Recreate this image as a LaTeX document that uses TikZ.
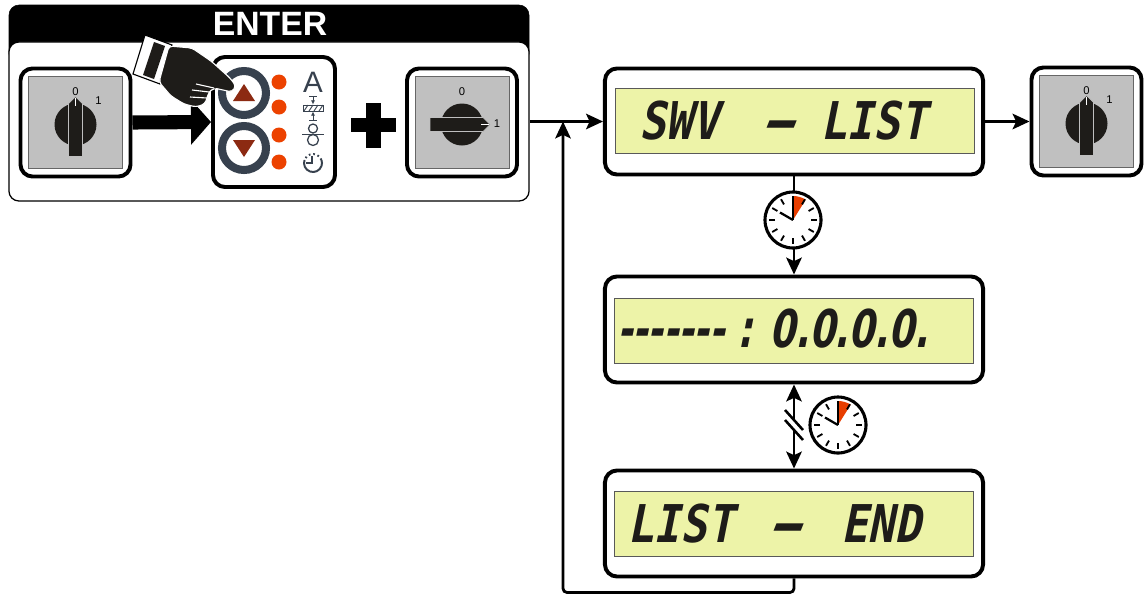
\documentclass[tikz,border=0pt]{standalone}
\usepackage{fontspec}
\setmainfont{Liberation Sans}
\newfontfamily\lcdfont{DejaVu Sans Mono Bold}[FakeSlant=0.2,FakeStretch=0.85]
\newfontfamily\lcdnum{DejaVu Sans Bold}[FakeSlant=0.2,FakeStretch=0.71]
\usetikzlibrary{arrows.meta}

\definecolor{lcdyellow}{RGB}{237,243,168}
\definecolor{swgray}{RGB}{192,192,192}
\definecolor{slate}{RGB}{55,65,78}
\definecolor{dotred}{RGB}{236,66,0}
\definecolor{keyred}{RGB}{140,42,18}
\definecolor{knobblack}{RGB}{30,28,25}
\definecolor{clockred}{RGB}{232,62,0}

% main switch: name, x, y, knob angle, place of the "1"
\newcommand{\mainswitch}[5]{%
  \node[swframe] (#1) at (#2,#3) {};
  \begin{scope}[shift={(#2,#3)}]
    \filldraw[fill=swgray, draw=black!60, line width=0.5pt] (-47,-46) rectangle (47,46);
    \node[swlabel] at (0,-31) {0};
    \node[swlabel] at #5 {1};
    \begin{scope}[shift={(0,2)}, rotate=#4]
      \fill[knobblack] (0,0) circle (21);
      \filldraw[fill=knobblack, draw=black!25, line width=0.5pt] (-7,32) -- (-7,-21) -- (0,-28) -- (7,-21) -- (7,32) -- cycle;
      \draw[white, line width=0.6pt] (0,-27) -- (0,-19);
    \end{scope}
  \end{scope}}

% stop watch with the red time slice
\newcommand{\waitclock}[3]{%
  \node[clock] (#1) at (#2,#3) {};
  \begin{scope}[shift={(#2,#3)}, y=0.025cm]
    \fill[clockred] (0,0) -- (90:24) arc[start angle=90, end angle=58, radius=24] -- cycle;
    \foreach \a in {0,30,...,330}
      \draw[line width=1.3pt] (\a:18) -- (\a:24);
    \draw[line width=1.6pt] (0,0) -- (90:23);
    \draw[line width=1.6pt] (0,0) -- (150:15);
  \end{scope}}

\begin{document}
\begin{tikzpicture}[x=0.025cm, y=-0.025cm,
    >={Stealth[length=12pt,width=11pt,inset=2.5pt]},
    link/.style={line width=2pt, ->},
    swframe/.style={draw, line width=2.8pt, rounded corners=0.3cm, fill=white,
      minimum width=2.75cm, minimum height=2.7cm, inner sep=0pt},
    swlabel/.style={font=\fontsize{8}{8}\selectfont, inner sep=0pt},
    lcdframe/.style={draw, line width=2.8pt, rounded corners=0.3cm, fill=white,
      minimum width=9.45cm, minimum height=2.65cm, inner sep=0pt},
    lcdglass/.style={draw=black!65, line width=0.6pt, fill=lcdyellow,
      minimum width=8.975cm, minimum height=1.625cm, inner sep=0pt},
    lcdtext/.style={anchor=base west, inner sep=0pt, text=knobblack,
      font=\lcdfont\fontsize{37}{37}\selectfont},
    clock/.style={circle, draw, line width=2.2pt, fill=white, minimum size=1.4cm, inner sep=0pt},
    bigarrow/.style={line width=10pt, -{Triangle[length=0.5cm,width=1.1cm]}}]
  \useasboundingbox (0,0) rectangle (1146,594);

  % ENTER panel
  \filldraw[black, rounded corners=0.25cm] (9,5) rectangle (529,64);
  \node[draw, line width=0.9pt, fill=white, rounded corners=0.25cm, minimum width=13cm,
    minimum height=3.975cm, inner sep=0pt] (enter) at (269,121.5) {};
  \node[text=white, font=\bfseries\fontsize{24}{24}\selectfont] at (270,24) {ENTER};

  \mainswitch{mainsw}{75.5}{122.5}{0}{(23,-22)}

  \node[draw, line width=2.8pt, rounded corners=0.3cm, fill=white, minimum width=3.05cm,
    minimum height=3.25cm, inner sep=0pt] (keypad) at (274,122) {};
  \draw[bigarrow] (mainsw.east) -- (keypad.west);

  % up / down keys, leds and symbols
  \draw[slate, line width=5.7pt] (244,93) circle (22) (244,148) circle (22);
  \fill[keyred] (233,101) -- (255,101) -- (244,84) -- cycle;
  \fill[keyred] (233,140) -- (255,140) -- (244,157) -- cycle;
  \foreach \y in {82,107,135,162}
    \fill[dotred] (279,\y) circle (7.5);
  \node[text=slate, font=\fontsize{21}{21}\selectfont, inner sep=0pt] at (313,82) {A};
  \draw[slate, line width=0.6pt] (303,105) rectangle (323,111);
  \foreach \i in {0,5,10,15}
    \draw[slate, line width=0.6pt] (304+\i,111) -- (308+\i,105);
  \draw[slate, line width=0.6pt] (309,96) -- (317,96) (309,120) -- (317,120);
  \draw[slate, line width=0.6pt, -{Latex[length=3pt,width=3pt]}] (313,96) -- (313,104.5);
  \draw[slate, line width=0.6pt, -{Latex[length=3pt,width=3pt]}] (313,120) -- (313,111.5);
  \draw[slate, line width=0.9pt] (313,128.5) circle (4.5) (313,140) circle (5.5);
  \draw[slate, line width=0.9pt] (302,134.5) -- (324,134.5);
  \begin{scope}[shift={(313,163)}, y=0.025cm]
    \draw[slate, line width=1.4pt] (160:9) arc[start angle=160, end angle=380, radius=9];
    \draw[slate, line width=1.4pt, dash pattern=on 1.2pt off 2pt] (20:9) arc[start angle=20, end angle=160, radius=9];
    \draw[slate, line width=1.2pt] (-1,7) -- (-1,0) -- (-7,0);
  \end{scope}

  % pointing hand
  \filldraw[fill=white, draw=black, line width=0.8pt] (145,35) -- (172,45) -- (160,84) -- (133,74) -- cycle;
  \fill[knobblack] (154,42) -- (165,46) -- (154,79) -- (143,75) -- cycle;
  \filldraw[fill=knobblack, draw=white, line width=0.8pt, rounded corners=2.5] (169,46) -- (192,48)
    -- (211,61) -- (230,78) -- (236,86) -- (232,92) -- (214,88) -- (209,92) -- (207,98)
    -- (205,104) -- (196,107) -- (184,104) -- (171,96) -- (159,82) -- cycle;
  \draw[white, line width=0.8pt] (214,88) -- (196,84) (209,92) -- (192,90) (207,98) -- (190,97);

  \draw[line width=10.5pt] (351,125) -- (396,125) (373.5,103) -- (373.5,148);

  \mainswitch{mainswon}{462}{122.5}{-90}{(35,1)}

  % displays
  \node[lcdframe] (lcdswv) at (794,121.5) {};
  \node[lcdglass] at (794.5,120.5) {};
  \node[lcdtext] at (639,139) {SWV};
  \node[lcdtext, anchor=base] at (776,139) {\scalebox{2}[1]{-}};
  \node[lcdtext] at (820,139) {LIST};

  \node[lcdframe] (lcdval) at (794,329.5) {};
  \node[lcdglass] at (794,331) {};
  \node[lcdtext, font=\lcdnum\fontsize{37}{37}\selectfont] at (617,347) {------- : 0.0.0.0.};

  \node[lcdframe] (lcdend) at (794,523.5) {};
  \node[lcdglass] at (794,524) {};
  \node[lcdtext] at (627,542) {LIST};
  \node[lcdtext, anchor=base] at (783,542) {\scalebox{2}[1]{-}};
  \node[lcdtext] at (841,542) {END};

  \mainswitch{mainswoff}{1086.5}{121.5}{0}{(23,-22)}

  % connections
  \coordinate (join) at (563,121.5);
  \draw[link] (enter.east) -- (lcdswv.west);
  \draw[link] (lcdswv.east) -- (mainswoff.west);
  \draw[link] (lcdswv.south) -- (lcdval.north);
  \draw[link, <->] (lcdval.south) -- (lcdend.north);
  \draw[link, rounded corners=0.1cm] (lcdend.south) -- ++(0,14) -| (join);
  \fill[white] (785,410) -- (803,430) -- (803,440) -- (785,420) -- cycle;
  \draw[line width=1.8pt] (785,410) -- (803,430) (785,420) -- (803,440);

  \waitclock{wait1}{793}{220}
  \waitclock{wait2}{838}{425}
\end{tikzpicture}
\end{document}
